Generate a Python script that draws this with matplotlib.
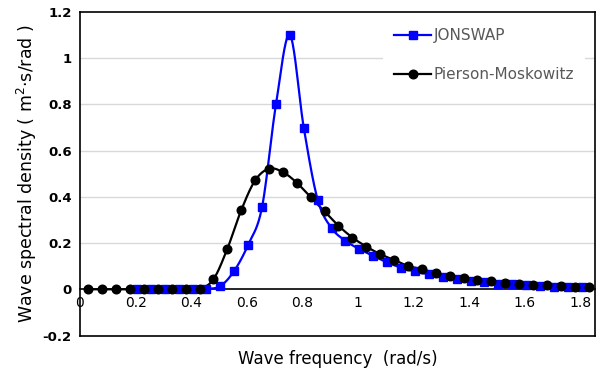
import numpy as np
import matplotlib
matplotlib.use("Agg")
import matplotlib.pyplot as plt

# JONSWAP spectrum (blue squares)
jon_w = [0.205, 0.255, 0.305, 0.355, 0.405, 0.455, 0.505, 0.555, 0.605, 0.655,
         0.705, 0.755, 0.805, 0.855, 0.905, 0.955, 1.005, 1.055, 1.105, 1.155,
         1.205, 1.255, 1.305, 1.355, 1.405, 1.455, 1.505, 1.555, 1.605, 1.655,
         1.705, 1.755, 1.805]
jon_s = [0.0, 0.0, 0.0, 0.0, 0.0, 0.002, 0.014, 0.08, 0.193, 0.356,
         0.80, 1.10, 0.70, 0.388, 0.265, 0.21, 0.174, 0.145, 0.116, 0.094,
         0.077, 0.065, 0.053, 0.044, 0.036, 0.03, 0.025, 0.021, 0.018, 0.015,
         0.012, 0.01, 0.008]

# Pierson-Moskowitz spectrum (black circles)
pm_w = [0.03, 0.08, 0.13, 0.18, 0.23, 0.28, 0.33, 0.38, 0.43, 0.48,
        0.53, 0.58, 0.63, 0.68, 0.73, 0.78, 0.83, 0.88, 0.93, 0.98,
        1.03, 1.08, 1.13, 1.18, 1.23, 1.28, 1.33, 1.38, 1.43, 1.48,
        1.53, 1.58, 1.63, 1.68, 1.73, 1.78, 1.83]
pm_s = [0.0, 0.0, 0.0, 0.0, 0.0, 0.0, 0.0, 0.0, 0.002, 0.043,
        0.175, 0.342, 0.471, 0.522, 0.507, 0.461, 0.398, 0.337, 0.275, 0.224,
        0.185, 0.152, 0.127, 0.101, 0.087, 0.07, 0.059, 0.048, 0.04, 0.034,
        0.028, 0.024, 0.02, 0.017, 0.014, 0.012, 0.01]

y_ticks = [-0.2, 0, 0.2, 0.4, 0.6, 0.8, 1.0, 1.2]
y_tick_labels = ["-0.2", "0", "0.2", "0.4", "0.6", "0.8", "1", "1.2"]
x_ticks = [0, 0.2, 0.4, 0.6, 0.8, 1.0, 1.2, 1.4, 1.6, 1.8]
x_tick_labels = ["0", "0.2", "0.4", "0.6", "0.8", "1", "1.2", "1.4", "1.6", "1.8"]


def smooth(x, y, n=20):
    # catmull-rom curve through the points, like a spreadsheet "smoothed line"
    x = np.asarray(x, float)
    y = np.asarray(y, float)
    px = np.concatenate([[2 * x[0] - x[1]], x, [2 * x[-1] - x[-2]]])
    py = np.concatenate([[2 * y[0] - y[1]], y, [2 * y[-1] - y[-2]]])
    t = np.linspace(0, 1, n, endpoint=False)
    xs, ys = [], []
    for i in range(1, len(px) - 2):
        for p, out in ((px, xs), (py, ys)):
            p0, p1, p2, p3 = p[i - 1], p[i], p[i + 1], p[i + 2]
            out.append(0.5 * ((2 * p1) + (-p0 + p2) * t
                              + (2 * p0 - 5 * p1 + 4 * p2 - p3) * t ** 2
                              + (-p0 + 3 * p1 - 3 * p2 + p3) * t ** 3))
    xs.append([x[-1]])
    ys.append([y[-1]])
    return np.concatenate(xs), np.concatenate(ys)


fig = plt.figure(figsize=(6.01, 3.76), dpi=100)
ax = fig.add_axes([0.1331, 0.1077, 0.857, 0.8604])

ax.set_xlim(0, 1.853)
ax.set_ylim(-0.2, 1.2)

for yv in [0.2, 0.4, 0.6, 0.8, 1.0]:
    ax.axhline(yv, color="#d9d9d9", lw=1, zorder=0)

blue = "#0000ff"
jx, jy = smooth(jon_w, jon_s)
px_, py_ = smooth(pm_w, pm_s)
ax.plot(px_, py_, color="black", lw=1.6, zorder=2)
ax.plot(jx, jy, color=blue, lw=1.6, zorder=3)
ax.plot(jon_w, jon_s, ls="none", marker="s", ms=6, color=blue, zorder=4)
ax.plot(pm_w, pm_s, ls="none", marker="o", ms=6.2, color="black", zorder=5)

# legend handles
hj, = ax.plot([], [], color=blue, lw=1.6, marker="s", ms=6)
hp, = ax.plot([], [], color="black", lw=1.6, marker="o", ms=6.2)
leg = ax.legend([hj, hp], ["JONSWAP", "Pierson-Moskowitz"],
                loc="upper right", bbox_to_anchor=(0.99, 1.0),
                frameon=True, fancybox=False, edgecolor="none",
                facecolor="white", framealpha=1, handlelength=2.4,
                handletextpad=0.15, labelspacing=1.6, borderpad=0.75,
                borderaxespad=0.3, prop={"size": 11})
for t in leg.get_texts():
    t.set_color("#595959")

ax.set_yticks(y_ticks)
ax.set_yticklabels(y_tick_labels, fontweight="bold", fontsize=9.5)
ax.set_xticks(x_ticks)
ax.set_xticklabels(x_tick_labels, fontweight="bold", fontsize=9.5)
ax.tick_params(axis="both", length=0, pad=6)
ax.tick_params(axis="x", pad=5)

# x tick labels sit under the zero line
ax.spines["bottom"].set_position(("data", 0))
ax.spines["bottom"].set_color("black")
ax.spines["bottom"].set_linewidth(1.2)
ax.plot([0, 1], [0, 0], transform=ax.transAxes, color="black", lw=1.2,
        clip_on=False, zorder=6)
for s in ["left", "right", "top"]:
    ax.spines[s].set_color("black")
    ax.spines[s].set_linewidth(1.2)

ax.set_xlabel("Wave frequency  (rad/s)", fontsize=12)
ax.xaxis.set_label_coords(0.501, -0.045)
ax.set_ylabel("Wave spectral density ( m$^2$·s/rad )", fontsize=12.5)
ax.yaxis.set_label_coords(-0.08, 0.5)

fig.savefig("out.png", dpi=100)
